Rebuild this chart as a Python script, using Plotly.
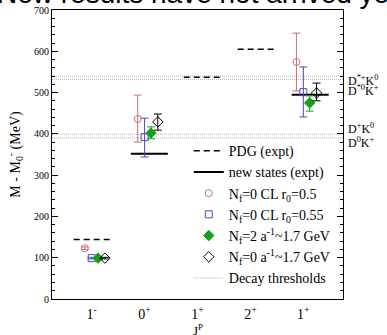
import plotly.graph_objects as go

# ---- data ----
cat_pos = [1, 2, 3, 4, 5]
cat_labels = ["1<sup>-</sup>", "0<sup>+</sup>", "1<sup>+</sup>", "2<sup>+</sup>", "1<sup>+</sup>"]

# PDG (expt) dashed lines
pdg_x = [1.02, 3.1, 4.12]
pdg_y = [144, 537, 605]
# new states (expt) solid lines
new_x = [2.09, 5.13]
new_y = [352, 495]

# lattice results at J^P = 1-, 0+, 1+
lat_x = [1, 2, 5]
red_y = [123, 436, 574]
red_up = [3, 58, 70]
red_dn = [3, 56, 70]
blue_y = [99, 392, 501]
blue_up = [2, 46, 61]
blue_dn = [2, 48, 60]
green_y = [99, 402, 475]
green_up = [2, 15, 17]
green_dn = [2, 14, 20]
black_y = [99, 429, 499]
black_up = [2, 19, 24]
black_dn = [2, 20, 19]

# thresholds
thr_y = [390, 399, 532, 540]
thr_labels = ["D<sup>0</sup>K<sup>+</sup>", "D<sup>+</sup>K<sup>0</sup>",
              "D<sup>*0</sup>K<sup>+</sup>", "D<sup>*+</sup>K<sup>0</sup>"]
thr_label_y = [378, 412, 505, 530]

xr = [0.25, 5.75]
serif = "Liberation Serif"

fig = go.Figure()

def seg_xy(xc, yv, hw):
    xs, ys = [], []
    for a, b in zip(xc, yv):
        xs += [a - hw, a + hw, None]
        ys += [b, b, None]
    return xs, ys

# thresholds
for i, t in enumerate(thr_y):
    fig.add_trace(go.Scatter(x=xr, y=[t, t], mode="lines",
                             line=dict(color="#b4b4b4", width=1, dash="1px,1px"),
                             name="Decay thresholds", legendrank=7,
                             showlegend=(i == 0), hoverinfo="skip"))

px_, py_ = seg_xy(pdg_x, pdg_y, 0.36)
fig.add_trace(go.Scatter(x=px_, y=py_, mode="lines",
                         line=dict(color="black", width=1.5, dash="6px,4px"),
                         name="PDG (expt)", legendrank=1))
nx_, ny_ = seg_xy(new_x, new_y, 0.35)
fig.add_trace(go.Scatter(x=nx_, y=ny_, mode="lines",
                         line=dict(color="black", width=2),
                         name="new states (expt)", legendrank=2))

series = [
    (red_y, red_up, red_dn, -0.13, "#c8707a", "circle-open", 7,
     "N<sub>f</sub>=0 CL r<sub>0</sub>=0.5", 3),
    (blue_y, blue_up, blue_dn, 0.0, "#4848c0", "square-open", 7,
     "N<sub>f</sub>=0 CL r<sub>0</sub>=0.55", 4),
    (green_y, green_up, green_dn, 0.12, "#16a016", "diamond", 8,
     "N<sub>f</sub>=2 a<sup>-1</sup>~1.7 GeV", 5),
    (black_y, black_up, black_dn, 0.25, "black", "diamond-open", 8,
     "N<sub>f</sub>=0 a<sup>-1</sup>~1.7 GeV", 6),
]
for yv, up, dn, off, col, sym, sz, nm, rk in series:
    fig.add_trace(go.Scatter(
        x=[v + off for v in lat_x], y=yv, mode="markers",
        marker=dict(symbol=sym, size=sz, color=col, line=dict(color=col, width=1)),
        error_y=dict(type="data", array=up, arrayminus=dn, color=col,
                     thickness=1, width=4),
        name=nm, legendrank=rk))

for ly, lt in zip(thr_label_y, thr_labels):
    fig.add_annotation(x=1.015, xref="paper", y=ly, yref="y", text=lt,
                       showarrow=False, xanchor="left", yanchor="middle",
                       borderpad=0,
                       font=dict(family=serif, size=12, color="black"))

# x-axis title
fig.add_annotation(x=0.5, xref="paper", y=0, yref="paper", text="J<sup>P</sup>",
                   showarrow=False, xanchor="center", yanchor="top", yshift=-22,
                   borderpad=0, font=dict(family=serif, size=13, color="black"))

fig.add_annotation(x=0, xref="paper", y=1.0, yref="paper",
                   text="New results have not arrived yet", showarrow=False,
                   xanchor="left", yanchor="bottom", yshift=-1,
                   xshift=-57,
                   font=dict(family="Liberation Sans", size=28, color="black"))

fig.update_layout(
    width=387, height=335,
    margin=dict(l=52, r=44, t=10, b=36),
    plot_bgcolor="white", paper_bgcolor="white",
    font=dict(family=serif, color="black"),
    showlegend=True,
    legend=dict(x=0.47, y=0.567, xanchor="left", yanchor="top",
                bgcolor="rgba(0,0,0,0)", font=dict(family=serif, size=14),
                tracegroupgap=0, itemwidth=30),
    xaxis=dict(range=xr, tickvals=cat_pos, ticktext=cat_labels,
               automargin=False,
               showgrid=False, zeroline=False, showline=True, linecolor="black",
               linewidth=1, mirror=True, ticks="",
               ticklabelstandoff=2,
               tickfont=dict(family=serif, size=14)),
    yaxis=dict(range=[0, 700], tickvals=[0, 100, 200, 300, 400, 500, 600, 700],
               automargin=False,
               showgrid=False, zeroline=False, showline=True, linecolor="black",
               linewidth=1, mirror="ticks", ticks="inside", ticklen=6,
               tickcolor="black",
               minor=dict(dtick=20, ticks="inside", ticklen=3, tickcolor="black"),
               tickfont=dict(family=serif, size=10),
               title=dict(text="M - M<sub>0</sub><sup>-</sup> (MeV)", standoff=10,
                          font=dict(family=serif, size=14))),
)

fig.write_html("out.html")
